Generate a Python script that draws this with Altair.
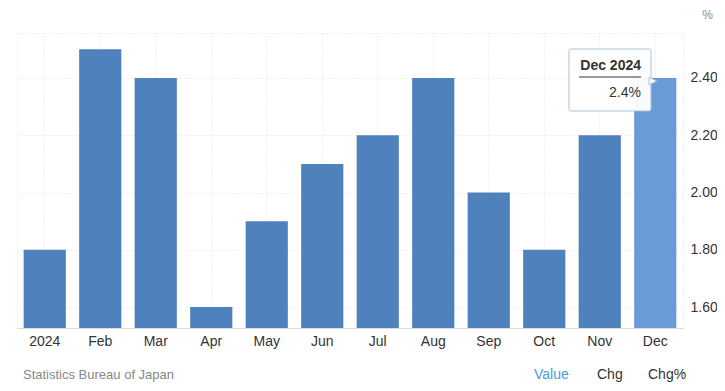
import altair as alt
import pandas as pd

months = ["2024", "Feb", "Mar", "Apr", "May", "Jun", "Jul", "Aug", "Sep", "Oct", "Nov", "Dec"]
values = [1.8, 2.5, 2.4, 1.6, 1.9, 2.1, 2.2, 2.4, 2.0, 1.8, 2.2, 2.4]
y_ticks = [1.6, 1.8, 2.0, 2.2, 2.4]
y_min, y_max = 1.527, 2.557
source_text = "Statistics Bureau of Japan"
tooltip_title = "Dec 2024"
tooltip_value = "2.4%"

df = pd.DataFrame({"month": months, "value": values})

W, H = 666, 295
FONT = "Liberation Sans"

bars = alt.Chart(df).mark_bar(clip=True).encode(
    x=alt.X("month:N", sort=months, title=None,
            scale=alt.Scale(paddingInner=0.24, paddingOuter=0.12),
            axis=alt.Axis(labelAngle=0, ticks=False, grid=True, bandPosition=0.5,
                          gridColor="#e3e3e3", gridDash=[1, 2], domainColor="#d9d9d9",
                          labelFont=FONT, labelFontSize=14, labelColor="#333333",
                          labelPadding=6)),
    y=alt.Y("value:Q", title=None,
            scale=alt.Scale(domain=[y_min, y_max], zero=False, nice=False),
            axis=alt.Axis(orient="right", values=y_ticks, format=".2f", ticks=False,
                          domain=False, gridColor="#e3e3e3", gridDash=[1, 2],
                          labelFont=FONT, labelFontSize=14, labelColor="#333333",
                          labelPadding=7)),
    y2=alt.Y2(datum=y_min),
    color=alt.condition(alt.datum.month == "Dec", alt.value("#6a9bd8"), alt.value("#4f81bd")),
)

def txt(text, x, y, color="#333333", size=14, bold=False, align="left", baseline="middle"):
    return alt.Chart(pd.DataFrame({"t": [text]})).mark_text(
        font=FONT, fontSize=size, color=color, align=align, baseline=baseline,
        fontWeight="bold" if bold else "normal"
    ).encode(text="t:N", x=alt.value(x), y=alt.value(y))

one = pd.DataFrame({"a": [0]})
tip_box = alt.Chart(one).mark_rect(fill="white", stroke="#a9bfd6", strokeWidth=1,
                                   cornerRadius=2, opacity=0.97).encode(
    x=alt.value(552), x2=alt.value(634), y=alt.value(16), y2=alt.value(78))
tip_arrow = alt.Chart(one).mark_point(shape="M-1,-1L1,0L-1,1Z", filled=True, fill="white",
                                      stroke="#a9bfd6", strokeWidth=1, size=60, opacity=1).encode(
    x=alt.value(636), y=alt.value(48))
tip_line = alt.Chart(one).mark_rule(color="#333333", strokeWidth=1).encode(
    x=alt.value(562), x2=alt.value(624), y=alt.value(44))

layers = [
    bars,
    tip_box, tip_arrow,
    txt(tooltip_title, 624, 33, bold=True, align="right"),
    tip_line,
    txt(tooltip_value, 624, 60, align="right", size=14),
    txt("%", 696, -18, color="#888888", size=12, align="right"),
    txt(source_text, 6, 342, color="#888888", size=13),
    txt("Value", 517, 342, color="#4a9ae0", size=14),
    txt("Chg", 580, 342),
    txt("Chg%", 631, 342),
]

chart = alt.layer(*layers).properties(
    width=W, height=H,
    autosize=alt.AutoSizeParams(type="none"),
    padding={"left": 9, "top": 25, "right": 34, "bottom": 57},
).configure_view(stroke="#e3e3e3", strokeDash=[1, 2])

chart.save("out.html", embed_options={"renderer": "svg", "actions": False})
